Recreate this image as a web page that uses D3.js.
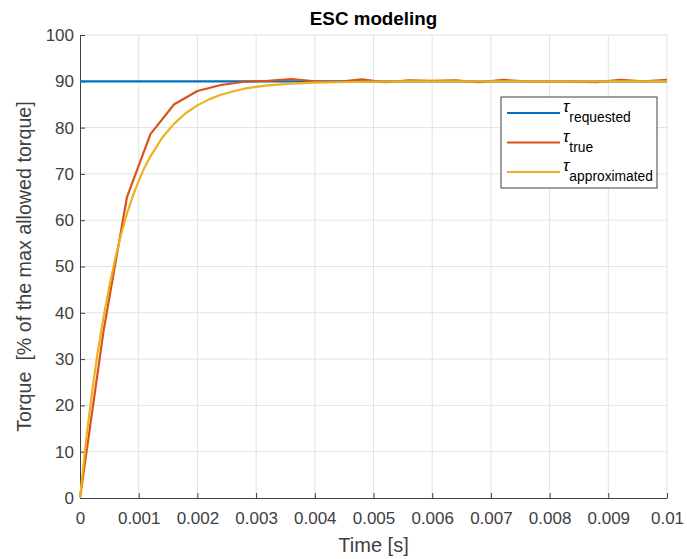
<!DOCTYPE html>
<html>
<head>
<meta charset="utf-8">
<script src="https://cdn.jsdelivr.net/npm/d3@7"></script>
<style>
  body { margin: 0; background: #fff; }
  text { font-family: "Liberation Sans", Arial, Helvetica, sans-serif; }
</style>
</head>
<body>
<div id="chart"></div>
<script>
// Time samples (s) and torque values (% of max allowed torque)
const requestedT = [0, 0.01];
const requestedV = [90, 90];

const trueT = [0, 0.0004, 0.0008, 0.0012, 0.0016, 0.002, 0.0024, 0.0028, 0.0032, 0.0036,
  0.004, 0.0044, 0.0048, 0.0052, 0.0056, 0.006, 0.0064, 0.0068, 0.0072, 0.0076,
  0.008, 0.0084, 0.0088, 0.0092, 0.0096, 0.01];
const trueV = [0, 36, 65, 78.6, 85, 87.9, 89.2, 89.9, 90.1, 90.5,
  90, 89.9, 90.4, 89.8, 90.2, 90.1, 90.2, 89.8, 90.3, 90,
  90, 89.9, 89.8, 90.3, 90, 90.3];

const approxT = [0, 0.0001, 0.0002, 0.0003, 0.0004, 0.0005, 0.0006, 0.0007, 0.0008, 0.0009,
  0.001, 0.0011, 0.0012, 0.0014, 0.0016, 0.0018, 0.002, 0.0022, 0.0024, 0.0026,
  0.0028, 0.003, 0.0032, 0.0036, 0.004, 0.0044, 0.0048, 0.0055, 0.007, 0.0085, 0.01];
const approxV = [0, 12, 22.4, 31.4, 39, 45.7, 51.7, 56.9, 61.4, 65.2,
  68.5, 71.4, 73.8, 77.8, 80.8, 83.1, 84.8, 86.1, 87.1, 87.8,
  88.4, 88.8, 89.1, 89.5, 89.7, 89.8, 89.9, 90, 90, 90, 90];

const xTicks = [0, 0.001, 0.002, 0.003, 0.004, 0.005, 0.006, 0.007, 0.008, 0.009, 0.01];
const yTicks = [0, 10, 20, 30, 40, 50, 60, 70, 80, 90, 100];

const seriesNames = ["requested", "true", "approximated"];
const seriesColors = ["#0072BD", "#D95319", "#EDB120"];

const width = 687, height = 559;
const margin = { top: 35, right: 20, bottom: 61, left: 80 };
const innerW = width - margin.left - margin.right;
const innerH = height - margin.top - margin.bottom;

const svg = d3.select("#chart").append("svg")
  .attr("width", width)
  .attr("height", height);

const chart = svg.append("g")
  .attr("transform", `translate(${margin.left},${margin.top})`);

const xScale = d3.scaleLinear().domain([0, 0.01]).range([0, innerW]);
const yScale = d3.scaleLinear().domain([0, 100]).range([innerH, 0]);

// grid
chart.append("g").selectAll("line").data(xTicks.slice(1)).join("line")
  .attr("x1", d => xScale(d)).attr("x2", d => xScale(d))
  .attr("y1", 0).attr("y2", innerH)
  .attr("stroke", "#e3e3e3").attr("stroke-width", 1);
chart.append("g").selectAll("line").data(yTicks.slice(1)).join("line")
  .attr("x1", 0).attr("x2", innerW)
  .attr("y1", d => yScale(d)).attr("y2", d => yScale(d))
  .attr("stroke", "#e3e3e3").attr("stroke-width", 1);

// axes
const xAxis = d3.axisBottom(xScale).tickValues(xTicks)
  .tickFormat(d => d === 0 ? "0" : d3.format("")(+d.toFixed(3)))
  .tickSizeInner(-5).tickSizeOuter(0).tickPadding(14);
const yAxis = d3.axisLeft(yScale).tickValues(yTicks)
  .tickSizeInner(-5).tickSizeOuter(0).tickPadding(6);

const xAxisG = chart.append("g").attr("transform", `translate(0,${innerH})`).call(xAxis);
const yAxisG = chart.append("g").call(yAxis);

[xAxisG, yAxisG].forEach(g => {
  g.select(".domain").attr("stroke", "#404040").attr("stroke-width", 1);
  g.selectAll(".tick line").attr("stroke", "#404040");
  g.selectAll(".tick text")
    .attr("fill", "#404040")
    .style("font-size", "17px")
    .style("font-family", "'Liberation Sans', Arial, sans-serif");
});

// lines
const line = d3.line().x(d => xScale(d[0])).y(d => yScale(d[1]));
const series = [
  d3.zip(requestedT, requestedV),
  d3.zip(trueT, trueV),
  d3.zip(approxT, approxV)
];

chart.append("g").selectAll("path").data(series).join("path")
  .attr("d", line)
  .attr("fill", "none")
  .attr("stroke", (d, i) => seriesColors[i])
  .attr("stroke-width", 2.2)
  .attr("stroke-linejoin", "round");

// title and labels
svg.append("text")
  .attr("x", margin.left + innerW / 2)
  .attr("y", 25)
  .attr("text-anchor", "middle")
  .attr("font-weight", "bold")
  .attr("font-size", "18.8px")
  .attr("fill", "#000")
  .text("ESC modeling");

svg.append("text")
  .attr("x", margin.left + innerW / 2)
  .attr("y", 552)
  .attr("text-anchor", "middle")
  .attr("font-size", "20px")
  .attr("fill", "#404040")
  .text("Time [s]");

svg.append("text")
  .attr("transform", `translate(31,${margin.top + innerH / 2}) rotate(-90)`)
  .attr("text-anchor", "middle")
  .attr("font-size", "19.7px")
  .attr("fill", "#404040")
  .style("white-space", "pre")
  .attr("xml:space", "preserve")
  .text("Torque  [% of the max allowed torque]");

// legend
const legend = svg.append("g").attr("transform", "translate(501,97)");
legend.append("rect")
  .attr("width", 156).attr("height", 91)
  .attr("fill", "#fff")
  .attr("stroke", "#404040").attr("stroke-width", 1);

const rows = legend.selectAll("g.row").data(seriesNames).join("g")
  .attr("class", "row")
  .attr("transform", (d, i) => `translate(0,${16 + i * 29.5})`);

rows.append("line")
  .attr("x1", 6).attr("x2", 59)
  .attr("stroke", (d, i) => seriesColors[i])
  .attr("stroke-width", 2.2);

const lt = rows.append("text")
  .attr("x", 62).attr("y", 0)
  .attr("fill", "#000");
lt.append("tspan")
  .attr("font-style", "italic")
  .attr("font-size", "17px")
  .attr("dy", -1)
  .text("τ");
lt.append("tspan")
  .attr("font-size", "13.8px")
  .attr("dy", 10)
  .text(d => d);
</script>
</body>
</html>
